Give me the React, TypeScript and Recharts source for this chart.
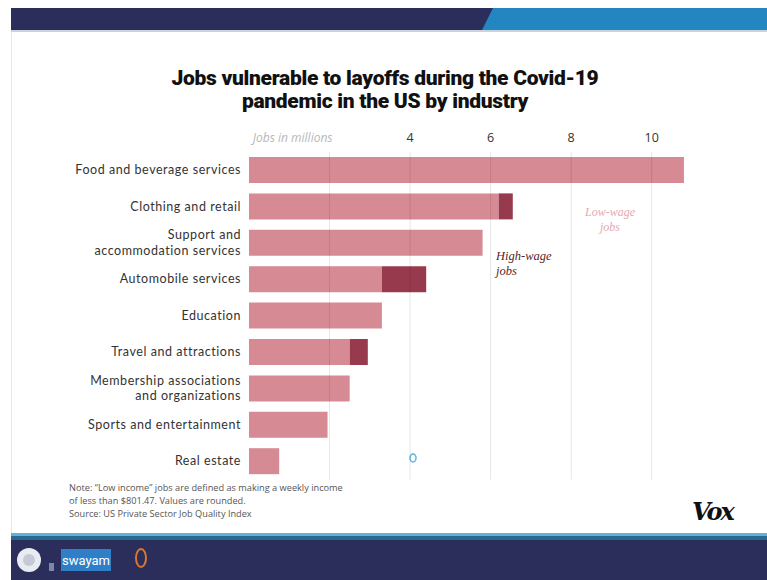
import { BarChart, Bar, XAxis, YAxis, ReferenceLine } from 'recharts';

const industries = [
  'Food and beverage services',
  'Clothing and retail',
  'Support and|accommodation services',
  'Automobile services',
  'Education',
  'Travel and attractions',
  'Membership associations|and organizations',
  'Sports and entertainment',
  'Real estate',
];
const lowWageJobs = [10.8, 6.2, 5.8, 3.3, 3.3, 2.5, 2.5, 1.95, 0.75];
const highWageJobs = [0, 0.35, 0, 1.1, 0, 0.45, 0, 0, 0];
const xTicks = [2, 4, 6, 8, 10];

const LOW = '#d68a94';
const HIGH = '#973a4d';
const NAVY = '#2b2e5a';

const data = industries.map((name, i) => ({
  name,
  low: lowWageJobs[i],
  high: highWageJobs[i],
}));

const labelFont = '"Open Sans", Lato, sans-serif';
const serifItalic = '"Liberation Serif", "DejaVu Serif", serif';

function IndustryTick({ x, y, payload }: any) {
  const lines = String(payload.value).split('|');
  const gap = 15.5;
  const start = -((lines.length - 1) * gap) / 2;
  return (
    <g>
      {lines.map((l, i) => (
        <text
          key={i}
          x={x}
          y={y + start + i * gap + 4}
          textAnchor="end"
          fill="#333"
          fontSize={12.5}
          letterSpacing={0.55}
          fontFamily="Lato, sans-serif"
        >
          {l}
        </text>
      ))}
    </g>
  );
}

function JobsTick({ x, y, payload }: any) {
  if (payload.value === 2) {
    return (
      <text x={x + 3} y={y} dy={-2} textAnchor="end" fill="#b8b8b8" fontSize={12} fontStyle="italic" fontFamily={labelFont}>
        Jobs in millions
      </text>
    );
  }
  return (
    <text x={x} y={y} dy={-2} textAnchor="middle" fill="#333" fontSize={12.5} fontFamily={labelFont}>
      {payload.value}
    </text>
  );
}

export default function App() {
  return (
    <div style={{ position: 'absolute', left: 0, top: 0, width: 767, height: 580, background: '#fff', overflow: 'hidden', fontFamily: labelFont }}>
      {/* slide frame */}
      <svg width={767} height={580} style={{ position: 'absolute', left: 0, top: 0 }}>
        <rect x={11} y={8} width={756} height={22} fill="#2386c0" />
        <polygon points="11,8 493,8 482,30 11,30" fill={NAVY} />
        <rect x={11} y={30} width={756} height={2} fill="#c9d3e0" />
        <rect x={11} y={32} width={1} height={501} fill="#e6e6e6" />
        <rect x={11} y={533} width={756} height={3} fill="#5fb3d9" />
        <rect x={11} y={536} width={756} height={4} fill="#2a6a8e" />
        <rect x={11} y={540} width={756} height={40} fill={NAVY} />
        <circle cx={29} cy={560} r={12} fill="#e8ecf2" />
        <circle cx={29} cy={560} r={6} fill="#c3cad6" />
        <rect x={49} y={563} width={5} height={8} fill="#7b86a8" />
        <rect x={61} y={549} width={50} height={22} fill="#2f7fc8" />
        <text x={86} y={565} textAnchor="middle" fill="#fff" fontSize={13} fontFamily="Roboto, sans-serif">swayam</text>
        <ellipse cx={141} cy={558} rx={5} ry={9} fill="none" stroke="#d9782c" strokeWidth={2} />
        <ellipse cx={413} cy={458} rx={3} ry={4} fill="none" stroke="#5ab7e6" strokeWidth={1.5} />
      </svg>

      <div style={{ position: 'absolute', left: 0, width: 770, top: 67, textAlign: 'center', fontFamily: 'Roboto, sans-serif', fontWeight: 900, fontSize: 21, lineHeight: '23px', color: '#111', letterSpacing: -0.3 }}>
        Jobs vulnerable to layoffs during the Covid-19
        <br />
        pandemic in the US by industry
      </div>

      <div style={{ position: 'absolute', left: 0, top: 0 }}>
        <BarChart
          width={767}
          height={580}
          data={data}
          layout="vertical"
          margin={{ top: 122, right: 75, bottom: 100.4, left: 0 }}
          barSize={26}
        >
          <XAxis
            type="number"
            orientation="top"
            domain={[0, 11]}
            ticks={xTicks}
            axisLine={false}
            tickLine={false}
            height={30}
            tick={<JobsTick />}
          />
          <YAxis
            type="category"
            dataKey="name"
            width={249}
            axisLine={false}
            tickLine={false}
            tick={<IndustryTick />}
            interval={0}
          />
          <Bar dataKey="low" stackId="jobs" fill={LOW} isAnimationActive={false} />
          <Bar dataKey="high" stackId="jobs" fill={HIGH} isAnimationActive={false} />
          {xTicks.map((t) => (
            <ReferenceLine key={t} x={t} stroke="#000" strokeOpacity={0.1} strokeWidth={1} />
          ))}
        </BarChart>
      </div>

      <div style={{ position: 'absolute', left: 496, top: 249, fontSize: 12.5, lineHeight: '15px', fontStyle: 'italic', color: '#5a1f2c', fontFamily: serifItalic }}>
        High-wage
        <br />
        jobs
      </div>
      <div style={{ position: 'absolute', left: 570, width: 80, top: 205, textAlign: 'center', fontSize: 12, lineHeight: '15px', fontStyle: 'italic', color: '#e3a9b1', fontFamily: serifItalic }}>
        Low-wage
        <br />
        jobs
      </div>

      <div style={{ position: 'absolute', left: 69, top: 481, fontSize: 9.2, lineHeight: '13px', color: '#555', fontFamily: labelFont }}>
        Note: “Low income” jobs are defined as making a weekly income
        <br />
        of less than $801.47. Values are rounded.
        <br />
        Source: US Private Sector Job Quality Index
      </div>

      <div style={{ position: 'absolute', left: 692, top: 497, fontSize: 24, fontWeight: 900, fontStyle: 'italic', fontFamily: '"DejaVu Serif", serif', color: '#111', letterSpacing: -2 }}>
        Vox
      </div>
    </div>
  );
}
